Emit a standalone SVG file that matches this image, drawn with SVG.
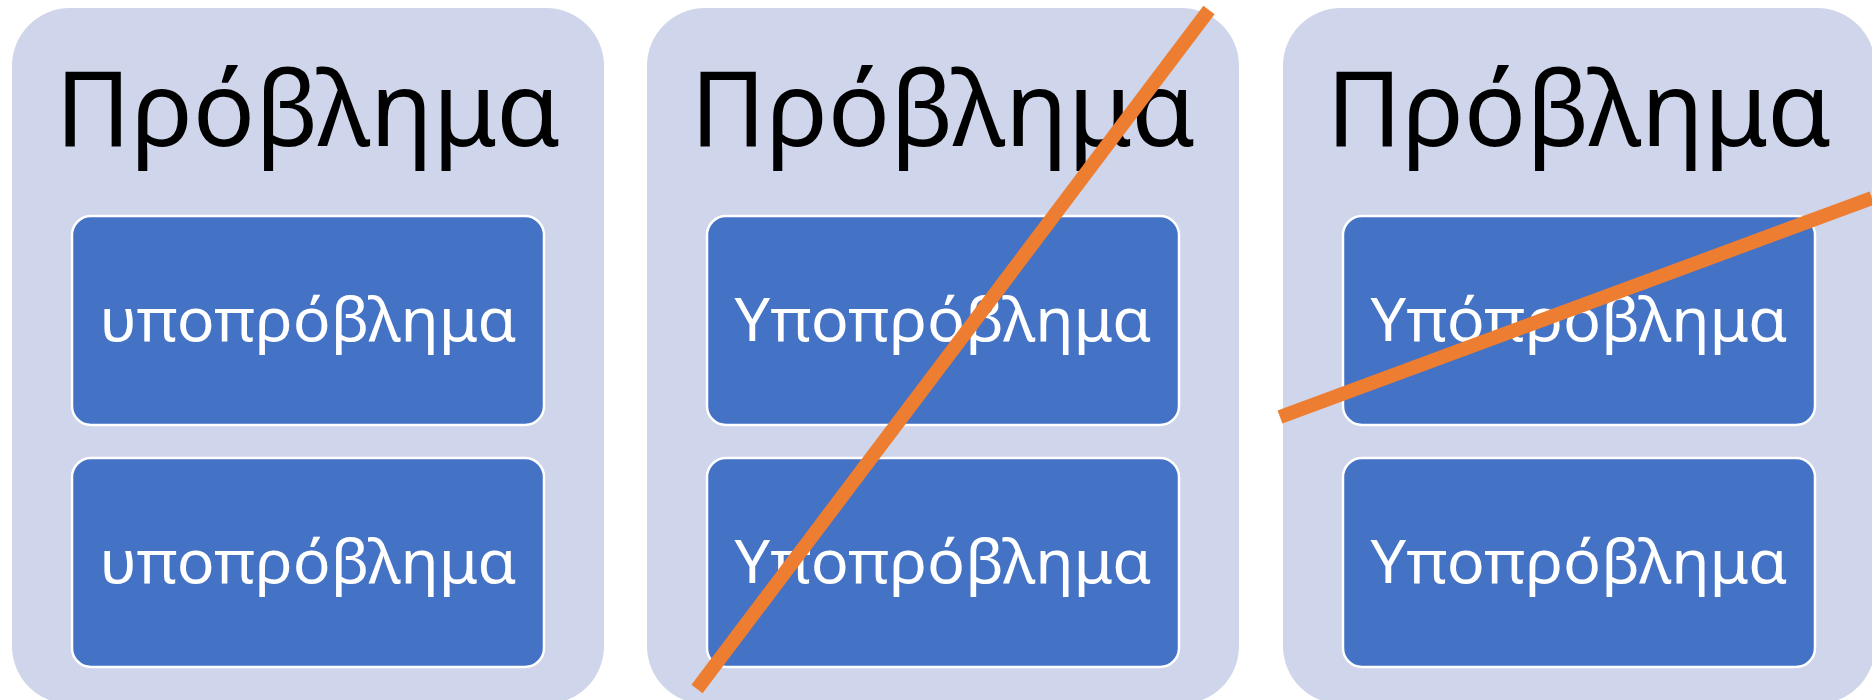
<svg xmlns="http://www.w3.org/2000/svg" width="1872" height="700" viewBox="0 0 1872 700">
<style>
.panel{fill:#CFD5EA;}
.box{fill:#4472C4;stroke:#FFFFFF;stroke-width:2.5;}
.title{font-family:"Noto Sans","DejaVu Sans",sans-serif;font-size:104px;fill:#000000;text-anchor:middle;}
.sub{font-family:"Noto Sans","DejaVu Sans",sans-serif;font-size:60px;fill:#FFFFFF;text-anchor:middle;}
.strike{stroke:#ED7D31;stroke-width:14;fill:none;}
</style>
<rect width="1872" height="700" fill="#FFFFFF"/>
<g id="panel1">
<rect class="panel" x="12" y="8" width="592" height="696" rx="58" ry="58"/>
<text class="title" x="308" y="146" textLength="505" lengthAdjust="spacingAndGlyphs">Πρόβλημα</text>
<g id="p1box1"><rect class="box" x="72" y="216" width="472" height="209" rx="19" ry="19"/>
<text class="sub" x="308" y="341" textLength="417" lengthAdjust="spacingAndGlyphs">υποπρόβλημα</text></g>
<g id="p1box2"><rect class="box" x="72" y="458" width="472" height="209" rx="19" ry="19"/>
<text class="sub" x="308" y="583" textLength="417" lengthAdjust="spacingAndGlyphs">υποπρόβλημα</text></g>
</g>
<g id="panel2">
<rect class="panel" x="647" y="8" width="592" height="696" rx="58" ry="58"/>
<text class="title" x="943" y="146" textLength="505" lengthAdjust="spacingAndGlyphs">Πρόβλημα</text>
<g id="p2box1"><rect class="box" x="707" y="216" width="472" height="209" rx="19" ry="19"/>
<text class="sub" x="943" y="341" textLength="417" lengthAdjust="spacingAndGlyphs">Υποπρόβλημα</text></g>
<g id="p2box2"><rect class="box" x="707" y="458" width="472" height="209" rx="19" ry="19"/>
<text class="sub" x="943" y="583" textLength="417" lengthAdjust="spacingAndGlyphs">Υποπρόβλημα</text></g>
</g>
<g id="panel3">
<rect class="panel" x="1283" y="8" width="592" height="696" rx="58" ry="58"/>
<text class="title" x="1579" y="146" textLength="505" lengthAdjust="spacingAndGlyphs">Πρόβλημα</text>
<g id="p3box1"><rect class="box" x="1343" y="216" width="472" height="209" rx="19" ry="19"/>
<text class="sub" x="1579" y="341" textLength="417" lengthAdjust="spacingAndGlyphs">Υπόπροβλημα</text></g>
<g id="p3box2"><rect class="box" x="1343" y="458" width="472" height="209" rx="19" ry="19"/>
<text class="sub" x="1579" y="583" textLength="417" lengthAdjust="spacingAndGlyphs">Υποπρόβλημα</text></g>
</g>
<g id="connectors">
<line class="strike" x1="697" y1="689" x2="1209" y2="10"/>
<line class="strike" x1="1280" y1="417" x2="1872" y2="198"/>
</g>
</svg>
